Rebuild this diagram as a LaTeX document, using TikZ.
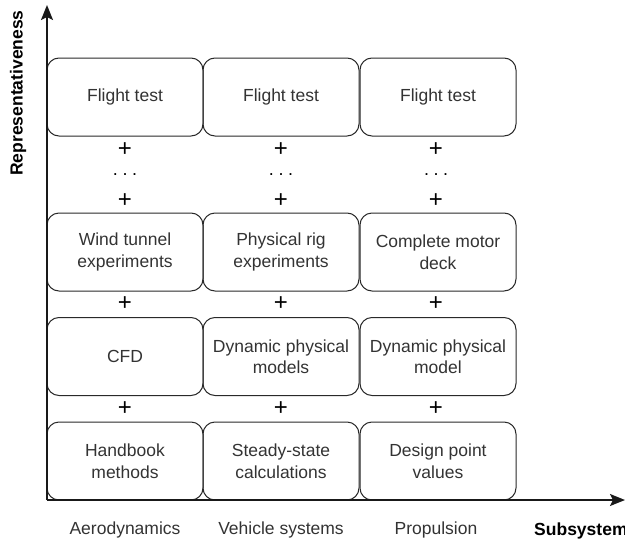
\documentclass[tikz,border=0pt]{standalone}
\usepackage{fontspec}
\setmainfont{Liberation Sans}
\usetikzlibrary{arrows.meta}
\definecolor{ink}{HTML}{333333}
\begin{document}
\begin{tikzpicture}[x=1pt,y=-1pt,
  cell/.style={draw=ink!80!black, line width=1pt, rounded corners=12pt, minimum width=156pt, minimum height=78pt, inner sep=0pt, align=center, text=ink, font=\fontsize{17.5}{21.5}\selectfont},
  lbl/.style={text=ink, inner sep=0pt, font=\fontsize{17.5}{21.5}\selectfont},
  plus/.style={text=black, inner sep=0pt, font=\fontsize{24}{24}\selectfont},
  dots/.style={text=black, inner sep=0pt, anchor=base, text height=3pt, text depth=0pt, font=\fontsize{18}{18}\selectfont},
  axis/.style={line width=1.6pt, draw=black!90, -{Stealth[length=15pt,width=12pt,inset=3pt]}},
  axlbl/.style={text=black, inner sep=0pt, font=\fontsize{17.5}{21.5}\selectfont\bfseries}]
\useasboundingbox (0,0) rectangle (625,544);
% boxes
\node[cell] (a1) at (125,97) {Flight test};
\node[cell] (b1) at (281,97) {Flight test};
\node[cell] (c1) at (438,97) {Flight test};
\node[cell] (a2) at (125,252) {Wind tunnel\\experiments};
\node[cell] (b2) at (281,252) {Physical rig\\experiments};
\node[cell] (c2) at (438,252) {Complete motor\\deck};
\node[cell] (a3) at (125,356.5) {CFD};
\node[cell] (b3) at (281,356.5) {Dynamic physical\\models};
\node[cell] (c3) at (438,356.5) {Dynamic physical\\model};
\node[cell] (a4) at (125,461) {Handbook\\methods};
\node[cell] (b4) at (281,461) {Steady-state\\calculations};
\node[cell] (c4) at (438,461) {Design point\\values};
% plus signs and dots
\foreach \c/\x in {a/125,b/281,c/436}{
  \node[plus] (\c p1) at (\x,150) {+};
  \node[dots] (\c d) at (\x,175) {.\hspace{4.5pt}.\hspace{4.5pt}.};
  \node[plus] (\c p2) at (\x,201) {+};
  \node[plus] (\c p3) at (\x,304) {+};
  \node[plus] (\c p4) at (\x,409) {+};
}
% axes
\coordinate (o) at (47,500);
\coordinate (ytip) at (47,5);
\coordinate (xtip) at (625,500);
\draw[axis] (o) -- (ytip);
\draw[axis] (o) -- (xtip);
\node[axlbl, rotate=90] (ylab) at (18,93) {Representativeness};
\node[axlbl, anchor=west] (xlab) at (534,531) {Subsystem};
% column labels
\node[lbl] (l1) at (125,530) {Aerodynamics};
\node[lbl] (l2) at (281,530) {Vehicle systems};
\node[lbl] (l3) at (436,530) {Propulsion};
\end{tikzpicture}
\end{document}
